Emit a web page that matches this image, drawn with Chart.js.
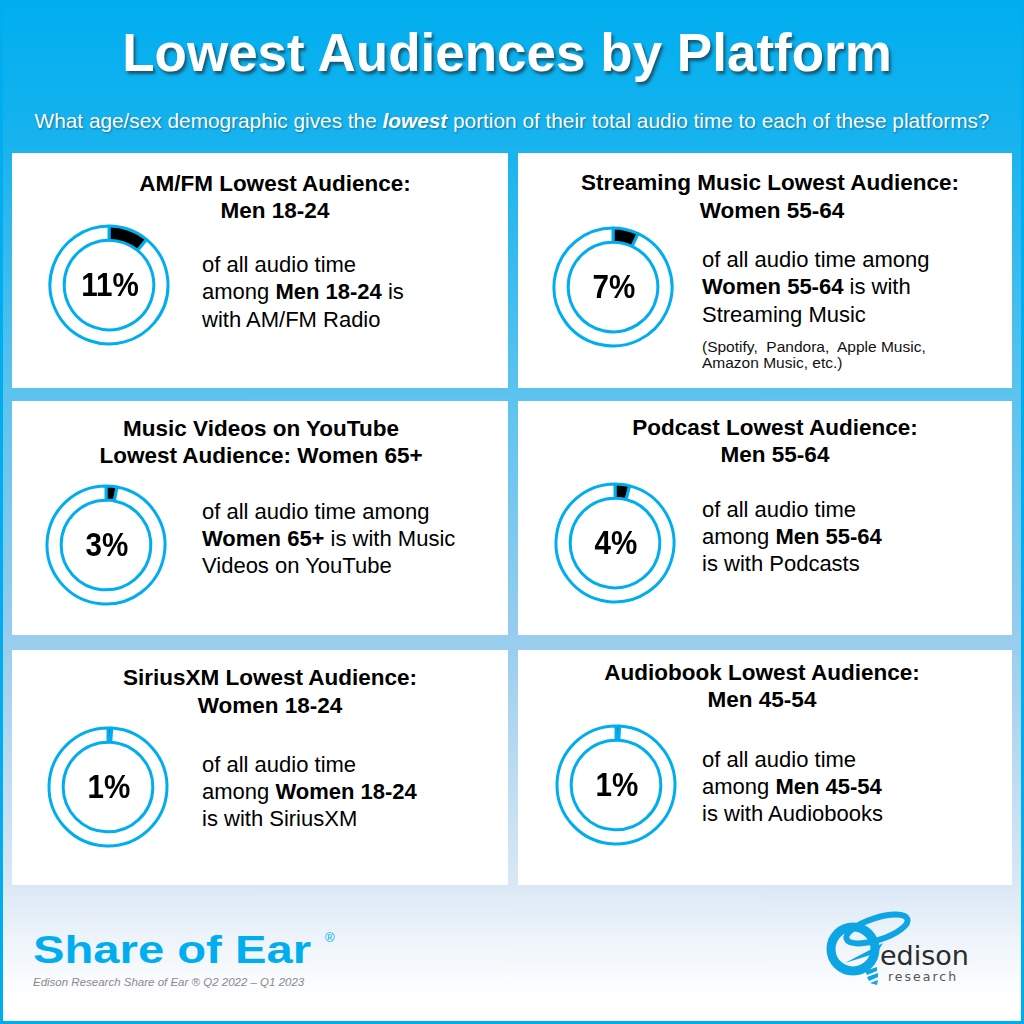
<!DOCTYPE html>
<html>
<head>
<meta charset="utf-8">
<script src="https://cdn.jsdelivr.net/npm/chart.js@4.4.0/dist/chart.umd.min.js"></script>
<style>
  html, body { margin:0; padding:0; }
  body { width:1024px; height:1024px; overflow:hidden; font-family:"Liberation Sans", Arial, sans-serif; }
  #root { position:relative; width:1024px; height:1024px;
    background: linear-gradient(to bottom, #00aeef 0px, #17b3ef 140px, #5cc3ef 395px, #98cdee 640px, #dae8f5 885px, #eef4fa 940px, #ffffff 1000px); }
  #frame { position:absolute; left:0; top:0; width:1024px; height:1024px; box-sizing:border-box; border:3px solid #00aeef; pointer-events:none; }
  .panel { position:absolute; background:#ffffff; }
  .t { position:absolute; white-space:pre; color:#000; }
  .c { text-align:center; width:600px; }
  .title { font-size:22.5px; font-weight:bold; line-height:30px; height:30px; }
  .body { font-size:22px; line-height:30px; height:30px; }
  .small { font-size:15.5px; line-height:20px; height:20px; color:#111; }
  .pct { position:absolute; width:120px; text-align:center; font-size:34px; font-weight:bold; line-height:40px; height:40px; transform:scaleX(0.87); }
  canvas.donut { position:absolute; }
</style>
</head>
<body>
<div id="root">
  <div class="t" style="left:0; width:1014px; text-align:center; top:22px; font-size:53px; font-weight:bold; line-height:62px; color:#fff; text-shadow:2px 3px 3px rgba(30,30,30,0.6);">Lowest Audiences by Platform</div>
  <div class="t" style="left:0; width:1024px; text-align:center; top:106px; font-size:20.8px; line-height:30px; color:#fff; text-shadow:1px 1px 2px rgba(0,0,0,0.35);">What age/sex demographic gives the <b><i>lowest</i></b> portion of their total audio time to each of these platforms?</div>

  <div class="panel" style="left:12px; top:153px; width:496px; height:235px;"></div>
  <div class="panel" style="left:518px; top:153px; width:494px; height:235px;"></div>
  <div class="panel" style="left:12px; top:401px; width:496px; height:234px;"></div>
  <div class="panel" style="left:518px; top:401px; width:494px; height:234px;"></div>
  <div class="panel" style="left:12px; top:650px; width:496px; height:235px;"></div>
  <div class="panel" style="left:518px; top:650px; width:494px; height:235px;"></div>

  <!-- Panel 1 -->
  <div class="t c title" style="left:-25px; top:168.5px;">AM/FM Lowest Audience:</div>
  <div class="t c title" style="left:-25px; top:195.5px;">Men 18-24</div>
  <div class="t body" style="left:202px; top:249.5px;">of all audio time</div>
  <div class="t body" style="left:202px; top:277px;">among <b>Men 18-24</b> is</div>
  <div class="t body" style="left:202px; top:304.5px;">with AM/FM Radio</div>

  <!-- Panel 2 -->
  <div class="t c title" style="left:470px; top:167.5px;">Streaming Music Lowest Audience:</div>
  <div class="t c title" style="left:472px; top:195.5px;">Women 55-64</div>
  <div class="t body" style="left:702px; top:244.5px;">of all audio time among</div>
  <div class="t body" style="left:702px; top:271.5px;"><b>Women 55-64</b> is with</div>
  <div class="t body" style="left:702px; top:300px;">Streaming Music</div>
  <div class="t small" style="left:702px; top:337px;">(Spotify,  Pandora,  Apple Music,</div>
  <div class="t small" style="left:702px; top:352.5px;">Amazon Music, etc.)</div>

  <!-- Panel 3 -->
  <div class="t c title" style="left:-39px; top:413.5px;">Music Videos on YouTube</div>
  <div class="t c title" style="left:-39px; top:441px;">Lowest Audience: Women 65+</div>
  <div class="t body" style="left:202px; top:497px;">of all audio time among</div>
  <div class="t body" style="left:202px; top:524px;"><b>Women 65+</b> is with Music</div>
  <div class="t body" style="left:202px; top:551px;">Videos on YouTube</div>

  <!-- Panel 4 -->
  <div class="t c title" style="left:475px; top:412.5px;">Podcast Lowest Audience:</div>
  <div class="t c title" style="left:475px; top:440px;">Men 55-64</div>
  <div class="t body" style="left:702px; top:495px;">of all audio time</div>
  <div class="t body" style="left:702px; top:522px;">among <b>Men 55-64</b></div>
  <div class="t body" style="left:702px; top:549px;">is with Podcasts</div>

  <!-- Panel 5 -->
  <div class="t c title" style="left:-30px; top:663px;">SiriusXM Lowest Audience:</div>
  <div class="t c title" style="left:-30px; top:690.5px;">Women 18-24</div>
  <div class="t body" style="left:202px; top:750px;">of all audio time</div>
  <div class="t body" style="left:202px; top:777px;">among <b>Women 18-24</b></div>
  <div class="t body" style="left:202px; top:804px;">is with SiriusXM</div>

  <!-- Panel 6 -->
  <div class="t c title" style="left:462px; top:658px;">Audiobook Lowest Audience:</div>
  <div class="t c title" style="left:462px; top:685px;">Men 45-54</div>
  <div class="t body" style="left:702px; top:745px;">of all audio time</div>
  <div class="t body" style="left:702px; top:772px;">among <b>Men 45-54</b></div>
  <div class="t body" style="left:702px; top:799px;">is with Audiobooks</div>

  <!-- Footer -->
  <div class="t" style="left:33px; top:928px; font-size:39px; font-weight:bold; line-height:44px; color:#00aeef; transform:scaleX(1.21); transform-origin:0 0;">Share of Ear</div>
  <div class="t" style="left:325px; top:930px; font-size:13px; line-height:16px; color:#00aeef;">®</div>
  <div class="t" style="left:33px; top:974px; font-size:11.5px; font-style:italic; line-height:16px; color:#8a8a8a;">Edison Research Share of Ear ® Q2 2022 – Q1 2023</div>

  <svg style="position:absolute; left:815px; top:905px;" width="190" height="110" viewBox="0 0 190 110">
    <ellipse cx="62" cy="24" rx="32" ry="11" transform="rotate(-18 62 24)" fill="none" stroke="#0ea5e4" stroke-width="6"/>
    <circle cx="38" cy="44" r="22" fill="none" stroke="#0ea5e4" stroke-width="9"/>
    <path d="M30 58 L68 38 L62 48 Z" fill="#0ea5e4"/>
    <path d="M50 66 L62 62 L62 66 L52 70 Z M52 72 L63 68 L63 72 L54 76 Z M55 78 L63 75 L62 80 Z" fill="#0ea5e4"/>
  </svg>
  <div class="t" style="left:880px; top:943px; font-family:'DejaVu Sans', sans-serif; font-size:27px; line-height:26px; height:26px; color:#2b2b2b;">edison</div>
  <div class="t" style="left:888px; top:970px; font-family:'DejaVu Sans', sans-serif; font-size:12.5px; letter-spacing:2px; line-height:14px; height:14px; color:#555;">research</div>

  <div id="frame"></div>
</div>

<script>
// ---- Data ----
const platforms = ['AM/FM Radio', 'Streaming Music', 'Music Videos on YouTube', 'Podcasts', 'SiriusXM', 'Audiobooks'];
const demographics = ['Men 18-24', 'Women 55-64', 'Women 65+', 'Men 55-64', 'Women 18-24', 'Men 45-54'];
const shares = [11, 7, 3, 4, 1, 1];

// ---- Layout (donut centres, px) ----
const centerX = [109, 613, 106, 615, 108, 616];
const centerY = [285, 287, 545, 543, 787, 785];

const root = document.getElementById('root');
const frame = document.getElementById('frame');
const SIZE = 130;

platforms.forEach((p, i) => {
  const cv = document.createElement('canvas');
  cv.className = 'donut';
  cv.width = SIZE; cv.height = SIZE;
  cv.style.left = (centerX[i] - SIZE / 2) + 'px';
  cv.style.top = (centerY[i] - SIZE / 2) + 'px';
  cv.style.width = SIZE + 'px'; cv.style.height = SIZE + 'px';
  root.insertBefore(cv, frame);

  new Chart(cv.getContext('2d'), {
    type: 'doughnut',
    data: {
      labels: [demographics[i] + ' – ' + p, 'Other audio'],
      datasets: [{
        data: [shares[i], 100 - shares[i]],
        backgroundColor: ['#000000', '#ffffff'],
        borderColor: '#00aeef',
        borderWidth: 3
      }]
    },
    options: {
      responsive: false,
      animation: false,
      devicePixelRatio: 1,
      rotation: 0,
      circumference: 360,
      radius: 59,
      cutout: '76%',
      events: [],
      plugins: { legend: { display: false }, tooltip: { enabled: false } }
    }
  });

  const lab = document.createElement('div');
  lab.className = 'pct';
  lab.textContent = shares[i] + '%';
  lab.style.left = (centerX[i] - 60 + 1) + 'px';
  lab.style.top = (centerY[i] - 1.5 - 20) + 'px';
  root.insertBefore(lab, frame);
});
</script>
</body>
</html>
